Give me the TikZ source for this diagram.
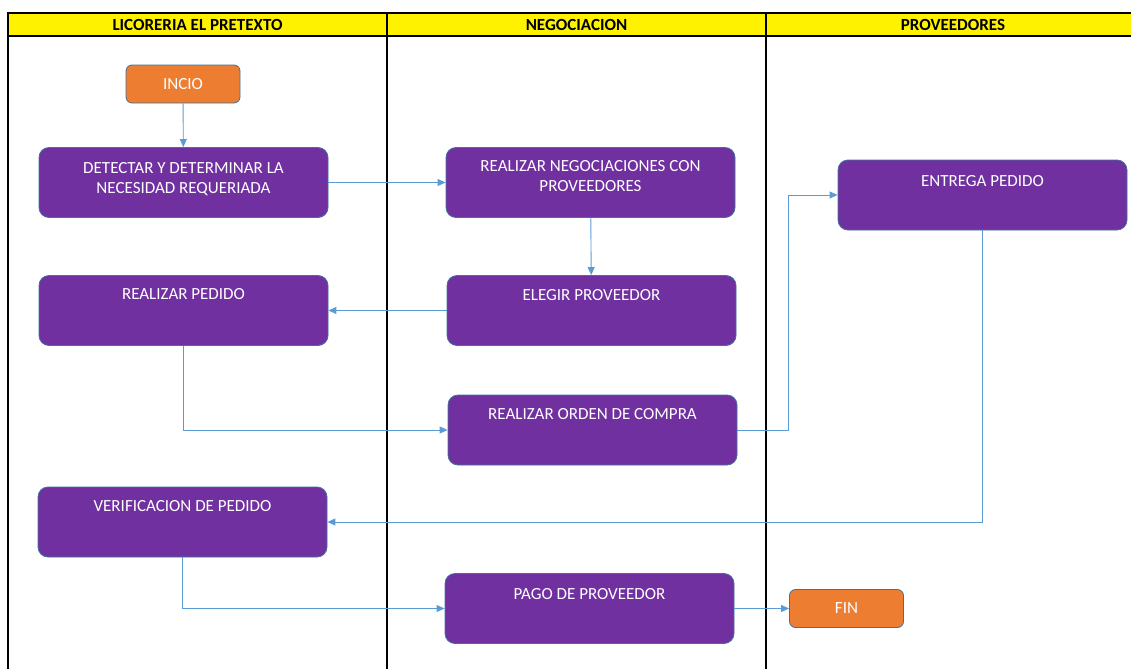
\documentclass[tikz,border=0pt]{standalone}
\usepackage{fontspec}
\setmainfont{Carlito}
\usetikzlibrary{positioning,arrows.meta}
\definecolor{morado}{HTML}{7030A0}
\definecolor{naranja}{HTML}{ED7D31}
\definecolor{bordeazul}{HTML}{41719C}
\definecolor{lineaazul}{HTML}{5B9BD5}
\tikzset{
  paso/.style={draw=bordeazul, fill=morado, line width=0.8pt, rounded corners=10pt,
    minimum width=289pt, minimum height=70pt},
  extremo/.style={draw=bordeazul, fill=naranja, line width=0.8pt, rounded corners=6pt,
    minimum width=114pt, minimum height=38pt, text=white, font=\fontsize{17}{20}\selectfont},
  rotulo/.style={text=white, align=center, inner sep=0pt, font=\fontsize{17}{20.3}\selectfont},
  encabezado/.style={font=\bfseries\fontsize{17}{20}\selectfont, inner sep=0pt},
  flecha/.style={draw=lineaazul, line width=0.9pt, -{Triangle[length=8pt,width=7pt]}}
}

\begin{document}
\begin{tikzpicture}[x=1pt,y=-1pt]
  \useasboundingbox (0,0) rectangle (1131,669);
  \fill[yellow] (8,13) rectangle (1140,36);
  \draw[line width=1.3pt] (1140,13) -- (8,13) -- (8,669);
  \draw[line width=1.3pt] (8,36) -- (1140,36);
  \draw[line width=1.3pt] (387,13) -- (387,669);
  \draw[line width=1.3pt] (766,13) -- (766,669);
  \node[encabezado] (carril1) at (197.5,25) {LICORERIA EL PRETEXTO};
  \node[encabezado] (carril2) at (576.5,25) {NEGOCIACION};
  \node[encabezado] (carril3) at (953,25) {PROVEEDORES};

  \node[extremo] (incio) at (183,84) {INCIO};
  \node[paso] (detectar) at (183.5,182.5) {};
  \node[paso] (pedido) at (183.5,310.5) {};
  \node[paso] (verificacion) at (182.5,522) {};
  \node[paso] (negociar) at (590.5,182.5) {};
  \node[paso] (elegir) at (591.5,310.5) {};
  \node[paso] (orden) at (592.5,430) {};
  \node[paso] (pago) at (589.5,608.5) {};
  \node[paso] (entrega) at (982.5,195) {};
  \node[extremo] (fin) at (846.5,608.5) {FIN};

  \node[rotulo, below=15pt of detectar.north] (tdetectar) {DETECTAR Y DETERMINAR LA\\NECESIDAD REQUERIADA};
  \node[rotulo, below=13pt of pedido.north] (tpedido) {REALIZAR PEDIDO};
  \node[rotulo, below=14pt of verificacion.north] (tverificacion) {VERIFICACION DE PEDIDO};
  \node[rotulo, below=13pt of negociar.north] (tnegociar) {REALIZAR NEGOCIACIONES CON\\PROVEEDORES};
  \node[rotulo, below=14pt of elegir.north] (telegir) {ELEGIR PROVEEDOR};
  \node[rotulo, below=14pt of orden.north] (torden) {REALIZAR ORDEN DE COMPRA};
  \node[rotulo, below=15pt of pago.north] (tpago) {PAGO DE PROVEEDOR};
  \node[rotulo, below=16pt of entrega.north] (tentrega) {ENTREGA PEDIDO};

  \coordinate (quiebre) at (788,430);
  \draw[flecha] (incio) -- (detectar);
  \draw[flecha] (detectar) -- (negociar);
  \draw[flecha] (negociar) -- (elegir);
  \draw[flecha] (elegir) -- (pedido);
  \draw[flecha] (pedido.south) |- (orden.west);
  \draw[flecha] (orden.east) -- (quiebre) |- (entrega.west);
  \draw[flecha] (entrega.south) |- (verificacion.east);
  \draw[flecha] (verificacion.south) |- (pago.west);
  \draw[flecha] (pago) -- (fin);
\end{tikzpicture}
\end{document}
